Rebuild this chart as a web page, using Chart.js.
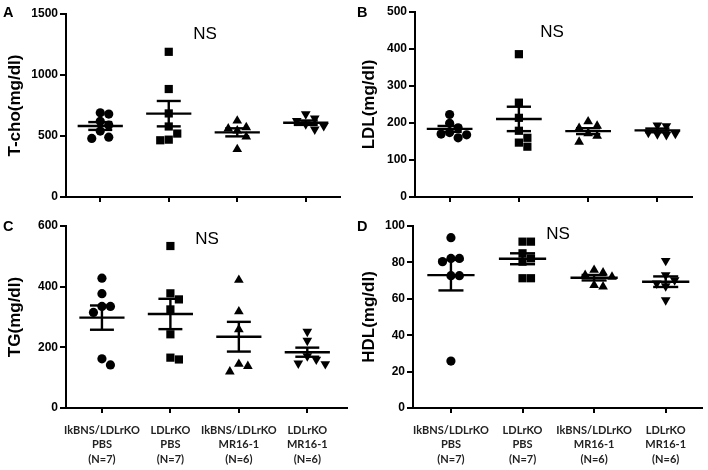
<!DOCTYPE html>
<html><head><meta charset="utf-8">
<script src="https://cdn.jsdelivr.net/npm/chart.js@4.4.1/dist/chart.umd.min.js"></script>
<style>
html,body{margin:0;padding:0;background:#fff;}
#wrap{position:relative;width:708px;height:470px;overflow:hidden;background:#fff;}
canvas{position:absolute;}
</style></head><body>
<div id="wrap">
<canvas id="cA" width="354" height="215" style="left:0;top:0;width:354px;height:215px"></canvas>
<canvas id="cB" width="354" height="215" style="left:354px;top:0;width:354px;height:215px"></canvas>
<canvas id="cC" width="354" height="255" style="left:0;top:215px;width:354px;height:255px"></canvas>
<canvas id="cD" width="354" height="255" style="left:354px;top:215px;width:354px;height:255px"></canvas>
</div>
<script>
// ---- Data ----
const groupLabels = [
  ['IkBNS/LDLrKO', 'PBS', '(N=7)'],
  ['LDLrKO', 'PBS', '(N=7)'],
  ['IkBNS/LDLrKO', 'MR16-1', '(N=6)'],
  ['LDLrKO', 'MR16-1', '(N=6)']
];

const tchoValues = [
  [690, 680, 620, 590, 540, 490, 480],
  [1190, 885, 685, 578, 520, 465, 470],
  [625, 571, 560, 544, 494, 391],
  [645, 680, 625, 598, 555, 582]
];
const tchoMean = [582, 683, 530, 609];
const tchoSem = [32, 104, 33, 18];
const tchoTicks = [0, 500, 1000, 1500];

const ldlValues = [
  [223, 187, 199, 170, 160, 168, 174],
  [386, 255, 214, 179, 160, 136, 147],
  [192, 204, 186, 172, 165, 149],
  [192, 194, 171, 168, 170, 174]
];
const ldlMean = [184, 211, 178, 180];
const ldlSem = [8, 33, 8, 5];
const ldlTicks = [0, 100, 200, 300, 400, 500];

const tgValues = [
  [428, 377, 335, 335, 315, 142, 162],
  [534, 378, 358, 325, 243, 160, 166],
  [422, 318, 259, 145, 138, 120],
  [252, 222, 160, 145, 147, 171]
];
const tgMean = [298, 310, 235, 184];
const tgSem = [40, 50, 49, 15];
const tgTicks = [0, 200, 400, 600];

const hdlValues = [
  [93.6, 82.2, 82.2, 80.4, 72.7, 72.7, 25.8],
  [91.4, 91.4, 85, 82.2, 80.4, 71.3, 71.3],
  [75.8, 74.4, 73, 72, 67.5, 66.7],
  [80.9, 73.1, 70.3, 68.5, 67, 59.3]
];
const hdlMean = [73, 82, 71.6, 69.4];
const hdlSem = [8.4, 3, 1.5, 2.9];
const hdlTicks = [0, 20, 40, 60, 80, 100];

// ---- styles ----
const pointStyles = ['circle', 'rect', 'triangle', 'triangle'];
const pointRotations = [0, 0, 0, 180];
const pointRadii = [4.6, 5.8, 5.6, 5.6];
const TICK_FONT = {family: 'Arial, "Liberation Sans", sans-serif', size: 12, weight: 'bold'};
const TITLE_FONT = {family: 'Arial, "Liberation Sans", sans-serif', size: 17, weight: 'bold'};
const XLABEL_FONT = {family: 'Lato, "Open Sans", sans-serif', size: 11, weight: 'bold', lineHeight: 1.32};

// GraphPad-like spreading of overlapping points (pixel-based beeswarm)
function swarm(values, pxPerY, pxPerX, diam) {
  const order = values.map((v, i) => i).sort((a, b) => values[b] - values[a]);
  const placed = [];
  const offs = new Array(values.length).fill(0);
  for (const i of order) {
    const y = values[i] * pxPerY;
    for (let k = 0; k < 20; k++) {
      const step = k === 0 ? 0 : (k % 2 === 1 ? (k + 1) / 2 : -k / 2);
      const x = step * diam;
      const ok = placed.every(p => Math.hypot(p.x - x, p.y - y) >= diam * 0.95);
      if (ok) { placed.push({x, y}); offs[i] = x / pxPerX; break; }
    }
  }
  return offs;
}

const textPlugin = {
  id: 'panelText',
  afterDraw(chart, args, opts) {
    const ctx = chart.ctx;
    ctx.save();
    ctx.fillStyle = '#000';
    ctx.textBaseline = 'middle';
    ctx.textAlign = 'left';
    ctx.font = 'bold 14.5px Arial, "Liberation Sans", sans-serif';
    ctx.fillText(opts.letter, opts.letterX, opts.letterY);
    ctx.textAlign = 'center';
    ctx.font = '17px Arial, "Liberation Sans", sans-serif';
    ctx.fillText('NS', opts.nsX, opts.nsY);
    ctx.restore();
  }
};

function makePanel(id, p) {
  const W = p.w, H = p.h;
  const xMin = p.xMin, xMax = p.xMax;
  const yMax = p.ticks[p.ticks.length - 1];
  const pxPerY = (p.B - p.T) / yMax;
  const pxPerX = (p.R - p.L) / (xMax - xMin);
  const datasets = [];
  const hw = 0.33, cw = 0.175;
  const lineDs = (pts) => ({
    type: 'scatter', data: pts, showLine: true, borderColor: '#000', borderWidth: 2.4,
    pointRadius: 0, pointHoverRadius: 0, order: 0, clip: false, borderCapStyle: 'butt'
  });
  p.values.forEach((vals, g) => {
    const offs = swarm(vals, pxPerY, pxPerX, p.diam[g]);
    datasets.push({
      type: 'scatter',
      data: vals.map((v, i) => ({x: g + 1 + offs[i], y: v})),
      pointStyle: pointStyles[g],
      rotation: pointRotations[g],
      pointRadius: pointRadii[g],
      backgroundColor: '#000',
      borderColor: '#000',
      borderWidth: 0,
      order: 1,
      clip: false
    });
    const x = g + 1, m = p.mean[g], s = p.sem[g];
    datasets.push(lineDs([{x: x - hw, y: m}, {x: x + hw, y: m}]));
    datasets.push(lineDs([{x: x, y: m - s}, {x: x, y: m + s}]));
    datasets.push(lineDs([{x: x - cw, y: m + s}, {x: x + cw, y: m + s}]));
    datasets.push(lineDs([{x: x - cw, y: m - s}, {x: x + cw, y: m - s}]));
  });

  new Chart(document.getElementById(id), {
    type: 'scatter',
    data: {datasets},
    plugins: [textPlugin],
    options: {
      responsive: false,
      animation: false,
      devicePixelRatio: 1,
      layout: {padding: {left: 0, top: p.T, right: W - p.R, bottom: 0}},
      plugins: {
        legend: {display: false},
        tooltip: {enabled: false},
        panelText: {letter: p.letter, letterX: 3, letterY: p.letterY, nsX: p.nsX, nsY: p.nsY}
      },
      scales: {
        x: {
          type: 'linear', min: xMin, max: xMax,
          afterBuildTicks: s => { s.ticks = [1, 2, 3, 4].map(v => ({value: v})); },
          afterFit: s => { s.height = H - p.B; },
          grid: {drawOnChartArea: false, color: '#000', lineWidth: 2, tickLength: 5, drawTicks: true},
          border: {display: true, color: '#000', width: 2},
          ticks: {
            color: '#222', font: XLABEL_FONT, padding: 10, maxRotation: 0, autoSkip: false,
            callback: v => p.showX ? groupLabels[v - 1] : ''
          }
        },
        y: {
          type: 'linear', min: 0, max: yMax,
          afterBuildTicks: s => { s.ticks = p.ticks.map(v => ({value: v})); },
          afterFit: s => { s.width = p.L; },
          grid: {drawOnChartArea: false, color: '#000', lineWidth: 2, tickLength: 6},
          border: {display: true, color: '#000', width: 2},
          ticks: {color: '#000', font: TICK_FONT, padding: 2, callback: v => String(v)},
          title: {display: true, text: p.title, color: '#000', font: TITLE_FONT, padding: {top: 5, bottom: 0}}
        }
      }
    }
  });
}

makePanel('cA', {w: 354, h: 215, L: 66, T: 14, R: 340, B: 197, xMin: 0.5, xMax: 4.5,
  values: tchoValues, mean: tchoMean, sem: tchoSem, ticks: tchoTicks, title: 'T-cho(mg/dl)',
  letter: 'A', letterY: 13, nsX: 205, nsY: 34, showX: false, diam: [8.5, 8.5, 9, 9]});
makePanel('cB', {w: 354, h: 215, L: 61, T: 12, R: 338, B: 197, xMin: 0.5, xMax: 4.5,
  values: ldlValues, mean: ldlMean, sem: ldlSem, ticks: ldlTicks, title: 'LDL(mg/dl)',
  letter: 'B', letterY: 13, nsX: 198, nsY: 32, showX: false, diam: [8.5, 8.5, 9, 9]});
makePanel('cC', {w: 354, h: 255, L: 66, T: 11, R: 347, B: 193, xMin: 0.475, xMax: 4.58,
  values: tgValues, mean: tgMean, sem: tgSem, ticks: tgTicks, title: 'TG(mg/dl)',
  letter: 'C', letterY: 12, nsX: 207, nsY: 24, showX: true, diam: [8.5, 8.5, 9, 9]});
makePanel('cD', {w: 354, h: 255, L: 59, T: 11, R: 350, B: 193, xMin: 0.47, xMax: 4.51,
  values: hdlValues, mean: hdlMean, sem: hdlSem, ticks: hdlTicks, title: 'HDL(mg/dl)',
  letter: 'D', letterY: 12, nsX: 204, nsY: 19, showX: true, diam: [8.5, 8.5, 9, 9]});
</script>
</body></html>
